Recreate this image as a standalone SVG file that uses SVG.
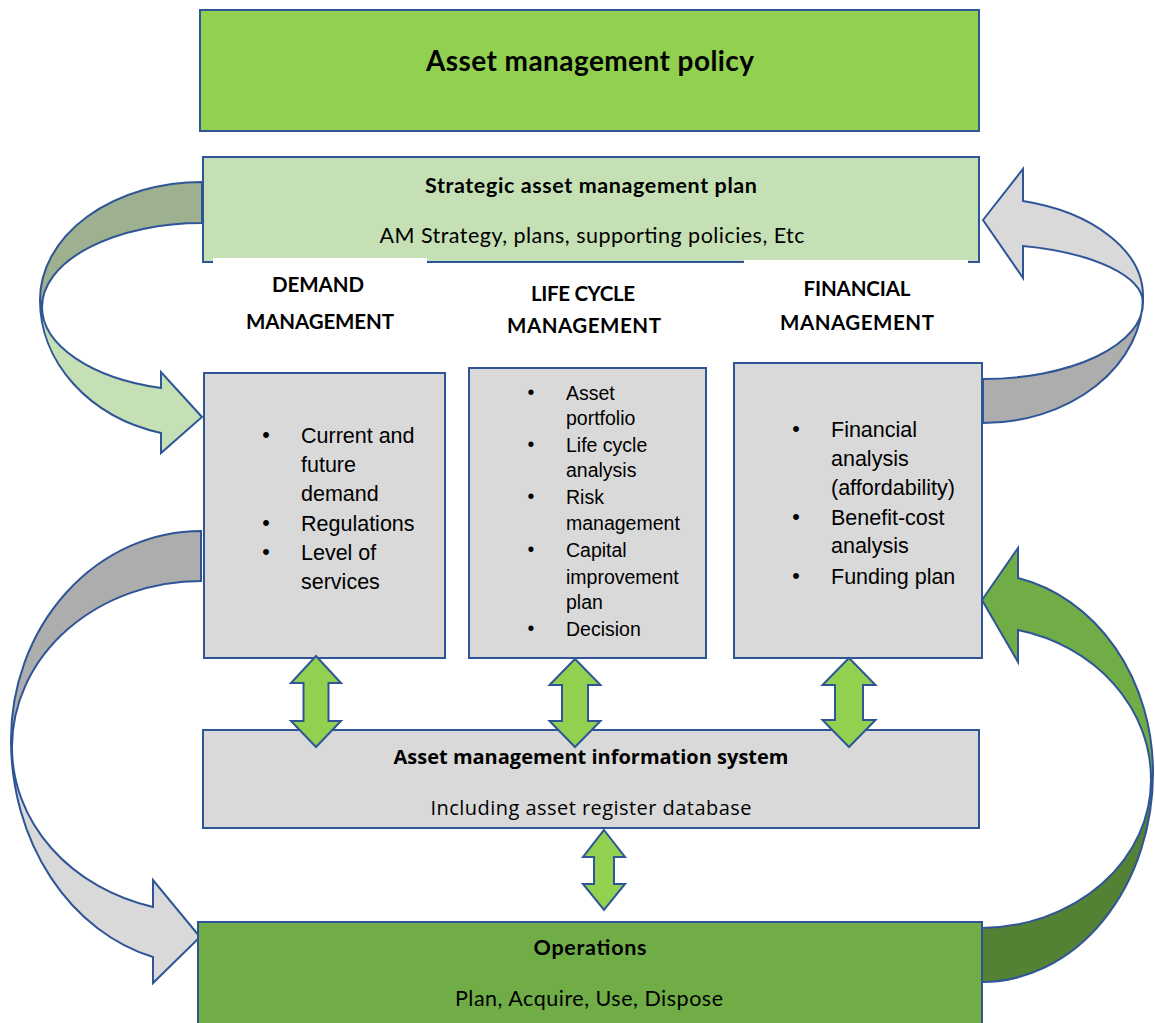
<svg xmlns="http://www.w3.org/2000/svg" width="1155" height="1023" viewBox="0 0 1155 1023">
<style>
.box{stroke:#2F5597;stroke-width:2}
.arr{stroke:#2F5597;stroke-width:2;stroke-linejoin:miter}
.cal{font-family:Lato,"Open Sans","Liberation Sans",sans-serif;fill:#000}
.seg{font-family:"Open Sans","Liberation Sans",sans-serif;fill:#000}
.b{font-weight:bold}
.li{font-family:"Liberation Sans",Arial,sans-serif;font-size:21.5px;fill:#000}
.li2{font-family:"Liberation Sans",Arial,sans-serif;font-size:19.5px;fill:#000}
.dbl{fill:#92D050;stroke:#2F5597;stroke-width:2}
</style>
<rect width="1155" height="1023" fill="#FFFFFF"/>
<g id="connectors">
  <path class="arr" fill="#9DB08F" d="M202,182 A162,118 0 0 0 40,300 L42,307 A160,84 0 0 1 202,223 Z"/>
  <path class="arr" fill="#C5E0B4" d="M40,300 A162,137 0 0 0 161,433 L161,453 L202,417 L161,372 L161,388 A160,84 0 0 1 42,307 Z"/>
  <path class="arr" fill="#ADADAD" d="M1143,296 A160,127 0 0 1 983,423 L983,379 A160,76 0 0 0 1143,303 Z"/>
  <path class="arr" fill="#D9D9D9" d="M983,220 L1023,169 L1023,201 A160,98 0 0 1 1143,296 L1143,303 A160,59 0 0 0 1023,246 L1023,278 Z"/>
  <path class="arr" fill="#ADADAD" d="M201,531 A190,209 0 0 0 11,740 L12,747 A189,166 0 0 1 201,581 Z"/>
  <path class="arr" fill="#D9D9D9" d="M11,740 A190,224 0 0 0 153,957 L153,983 L200,937 L153,880 L153,907 A189,165 0 0 1 12,747 Z"/>
  <path class="arr" fill="#548235" d="M1153,773 A171,209 0 0 1 982,982 L982,928 A171,148 0 0 0 1151,780 Z"/>
  <path class="arr" fill="#70AD47" d="M982,600 L1018,548 L1018,578 A171,199 0 0 1 1153,773 L1151,780 A171,153 0 0 0 1018,630 L1018,662 Z"/>
</g>
<g id="policy">
  <rect class="box" x="200" y="10" width="779" height="121" fill="#92D050"/>
  <text class="cal b" x="590" y="71" font-size="28" text-anchor="middle" textLength="328">Asset management policy</text>
</g>
<g id="strategic-plan">
  <rect class="box" x="203" y="157" width="776" height="105" fill="#C5E0B4"/>
  <text class="cal b" x="591" y="193" font-size="21.5" text-anchor="middle" textLength="332">Strategic asset management plan</text>
  <text class="cal" x="592" y="243" font-size="21.5" text-anchor="middle" textLength="425">AM Strategy, plans, supporting policies, Etc</text>
</g>
<g id="heading-demand">
  <rect x="213" y="258" width="214" height="50" fill="#FFFFFF"/>
  <text class="cal b" x="318" y="292" font-size="20.5" text-anchor="middle" textLength="92">DEMAND</text>
  <text class="cal b" x="320" y="329" font-size="20.5" text-anchor="middle" textLength="148">MANAGEMENT</text>
</g>
<g id="heading-lifecycle">
  <text class="cal b" x="583" y="301" font-size="20.5" text-anchor="middle" textLength="104">LIFE CYCLE</text>
  <text class="cal b" x="584" y="333" font-size="20.5" text-anchor="middle" textLength="154">MANAGEMENT</text>
</g>
<g id="heading-financial">
  <rect x="744" y="260" width="224" height="50" fill="#FFFFFF"/>
  <text class="cal b" x="857" y="296" font-size="20.5" text-anchor="middle" textLength="107">FINANCIAL</text>
  <text class="cal b" x="857" y="330" font-size="20.5" text-anchor="middle" textLength="154">MANAGEMENT</text>
</g>
<g id="demand">
  <rect class="box" x="204" y="373" width="241" height="285" fill="#D9D9D9"/>
  <text class="li" x="266" y="442" text-anchor="middle">•</text>
  <text class="li" x="266" y="530" text-anchor="middle">•</text>
  <text class="li" x="266" y="559" text-anchor="middle">•</text>
  <text class="li" x="301" y="443">Current and</text>
  <text class="li" x="301" y="472">future</text>
  <text class="li" x="301" y="501">demand</text>
  <text class="li" x="301" y="531">Regulations</text>
  <text class="li" x="301" y="560">Level of</text>
  <text class="li" x="301" y="589">services</text>
</g>
<g id="lifecycle">
  <rect class="box" x="469" y="368" width="237" height="290" fill="#D9D9D9"/>
  <text class="li2" x="531" y="399" text-anchor="middle">•</text>
  <text class="li2" x="531" y="451" text-anchor="middle">•</text>
  <text class="li2" x="531" y="503" text-anchor="middle">•</text>
  <text class="li2" x="531" y="556" text-anchor="middle">•</text>
  <text class="li2" x="531" y="635" text-anchor="middle">•</text>
  <text class="li2" x="566" y="400">Asset</text>
  <text class="li2" x="566" y="425">portfolio</text>
  <text class="li2" x="566" y="452">Life cycle</text>
  <text class="li2" x="566" y="477">analysis</text>
  <text class="li2" x="566" y="504">Risk</text>
  <text class="li2" x="566" y="530">management</text>
  <text class="li2" x="566" y="557">Capital</text>
  <text class="li2" x="566" y="584">improvement</text>
  <text class="li2" x="566" y="609">plan</text>
  <text class="li2" x="566" y="636">Decision</text>
</g>
<g id="financial">
  <rect class="box" x="734" y="363" width="248" height="295" fill="#D9D9D9"/>
  <text class="li" x="796" y="436" text-anchor="middle">•</text>
  <text class="li" x="796" y="524" text-anchor="middle">•</text>
  <text class="li" x="796" y="583" text-anchor="middle">•</text>
  <text class="li" x="831" y="437">Financial</text>
  <text class="li" x="831" y="466">analysis</text>
  <text class="li" x="831" y="495">(affordability)</text>
  <text class="li" x="831" y="525">Benefit-cost</text>
  <text class="li" x="831" y="553">analysis</text>
  <text class="li" x="831" y="584">Funding plan</text>
</g>
<g id="amis">
  <rect class="box" x="203" y="730" width="776" height="98" fill="#D9D9D9"/>
  <text class="seg b" x="591" y="764" font-size="20" text-anchor="middle" textLength="395">Asset management information system</text>
  <text class="seg" x="591" y="815" font-size="20" text-anchor="middle" textLength="321">Including asset register database</text>
</g>
<g id="operations">
  <rect class="box" x="198" y="922" width="784" height="110" fill="#70AD47"/>
  <text class="cal b" x="590" y="955" font-size="21.5" text-anchor="middle" textLength="113">Operations</text>
  <text class="cal" x="589" y="1006" font-size="21.5" text-anchor="middle" textLength="268">Plan, Acquire, Use, Dispose</text>
</g>
<g id="links">
  <path class="dbl" d="M316,656 L341,683 L328.5,683 L328.5,721 L341,721 L316,747 L291,721 L303.5,721 L303.5,683 L291,683 Z"/>
  <path class="dbl" d="M575,659 L600.5,685 L588,685 L588,721 L600.5,721 L575,747 L549.5,721 L562,721 L562,685 L549.5,685 Z"/>
  <path class="dbl" d="M849,658 L875.5,685 L863,685 L863,720 L875.5,720 L849,747 L822.5,720 L835,720 L835,685 L822.5,685 Z"/>
  <path class="dbl" d="M604,830 L625,857 L614,857 L614,884 L625,884 L604,910 L583,884 L594,884 L594,857 L583,857 Z"/>
</g>
</svg>
